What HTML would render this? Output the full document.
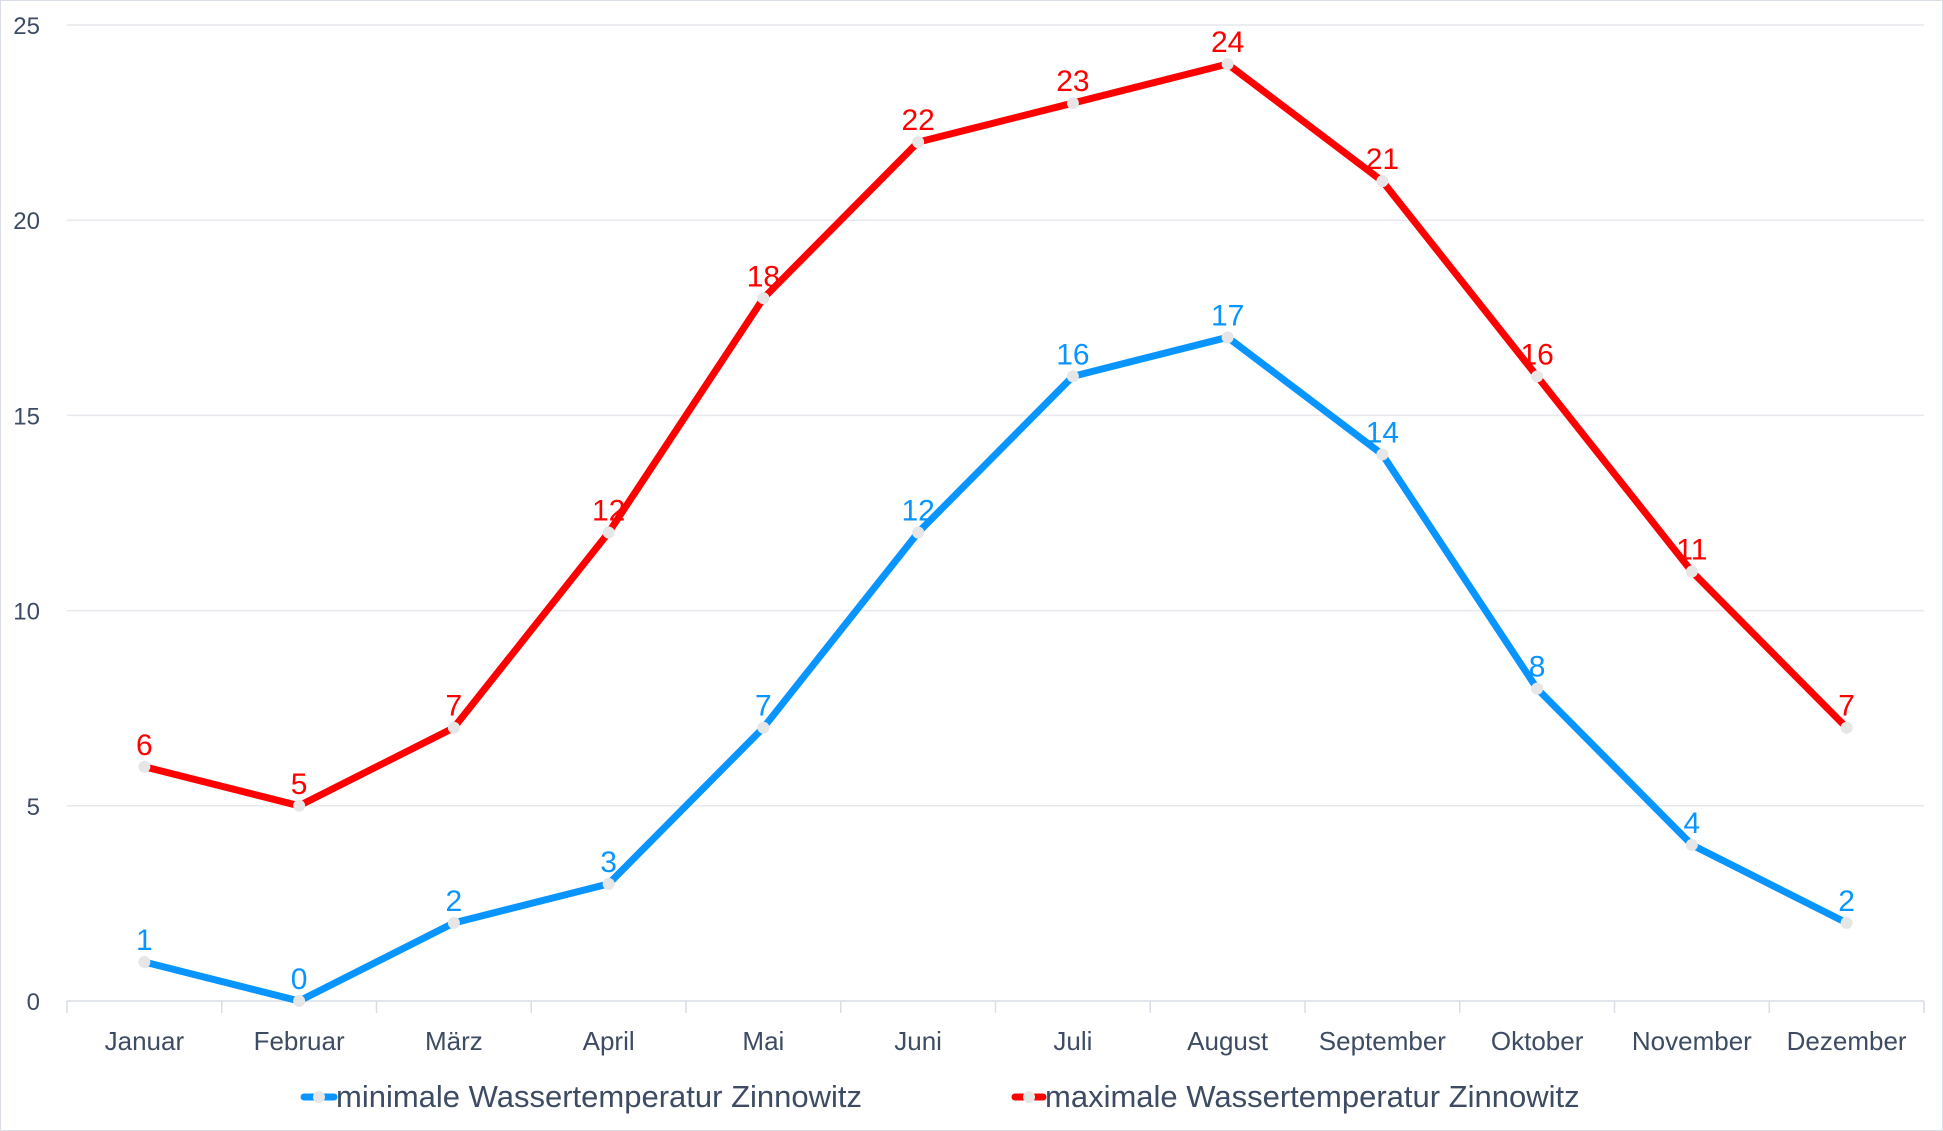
<!DOCTYPE html>
<html><head><meta charset="utf-8"><style>
body{margin:0;background:#fff}
svg{display:block;font-family:"Liberation Sans",sans-serif}
</style></head><body>
<svg id="chart" width="1943" height="1131" viewBox="0 0 1943 1131" xmlns="http://www.w3.org/2000/svg">
<rect x="0.5" y="0.5" width="1942" height="1130" fill="#fff" stroke="#d9dee6"/>
<g id="grid"></g><g id="axes"></g><g id="series"></g>
<g>
 <g>
  <line x1="304" y1="1097" x2="334" y2="1097" stroke="#0895ff" stroke-width="7" stroke-linecap="round"/>
  <circle cx="319" cy="1097" r="6" fill="#e6e6e6"/>
  <text x="336" y="1107" font-size="31" fill="#3d4b63">minimale Wassertemperatur Zinnowitz</text>
 </g>
 <g>
  <line x1="1015" y1="1097" x2="1043" y2="1097" stroke="#ff0000" stroke-width="7" stroke-linecap="round"/>
  <circle cx="1029" cy="1097" r="6" fill="#e6e6e6"/>
  <text x="1045" y="1107" font-size="31" fill="#3d4b63">maximale Wassertemperatur Zinnowitz</text>
 </g>
</g>
</svg>
<script>
const categories=["Januar","Februar","März","April","Mai","Juni","Juli","August","September","Oktober","November","Dezember"];
const minValues=[1,0,2,3,7,12,16,17,14,8,4,2];
const maxValues=[6,5,7,12,18,22,23,24,21,16,11,7];
const yTicks=[0,5,10,15,20,25];
const NS="http://www.w3.org/2000/svg";
const L=67,R=1924,T=25,B=1001,YMAX=25;
const bw=(R-L)/categories.length;
const x=i=>L+bw*(i+0.5);
const y=v=>B-(v/YMAX)*(B-T);
function mk(tag,attrs,parent){const e=document.createElementNS(NS,tag);for(const k in attrs)e.setAttribute(k,attrs[k]);parent.appendChild(e);return e;}
const grid=document.getElementById('grid'),axes=document.getElementById('axes'),ser=document.getElementById('series');
yTicks.forEach(t=>{
 const g=mk('line',{x1:L,x2:R,y1:y(t),y2:y(t),stroke:t===0?'#d9dee6':'#e6e9ee','stroke-width':1.5},grid);
 
 
 const tx=mk('text',{x:40,y:y(t)+9,'text-anchor':'end','font-size':24,fill:'#3d4b63'},axes);
 tx.textContent=t;
 
 
});
for(let i=0;i<=categories.length;i++){
 const tk=mk('line',{x1:L+bw*i,x2:L+bw*i,y1:B,y2:B+12,stroke:'#d9dee6','stroke-width':1.5},axes);
 
 
}
categories.forEach((c,i)=>{
 const tx=mk('text',{x:x(i),y:1050,'text-anchor':'middle','font-size':26,fill:'#3d4b63'},axes);
 tx.textContent=c;
 
 
});
function drawSeries(vals,color,name){
 const pl=mk('polyline',{points:vals.map((v,i)=>x(i)+','+y(v)).join(' '),fill:'none',stroke:color,'stroke-width':7,'stroke-linejoin':'round'},ser);
 
 
 vals.forEach((v,i)=>{
  const c=mk('circle',{cx:x(i),cy:y(v),r:6,fill:'#e6e6e6'},ser);
  
  
  const t=mk('text',{x:x(i),y:y(v)-12,'text-anchor':'middle','font-size':30,fill:color},ser);
  t.textContent=v;
  
  
 });
}
drawSeries(maxValues,'#ff0000','max-series');
drawSeries(minValues,'#0895ff','min-series');
</script>
</body></html>
